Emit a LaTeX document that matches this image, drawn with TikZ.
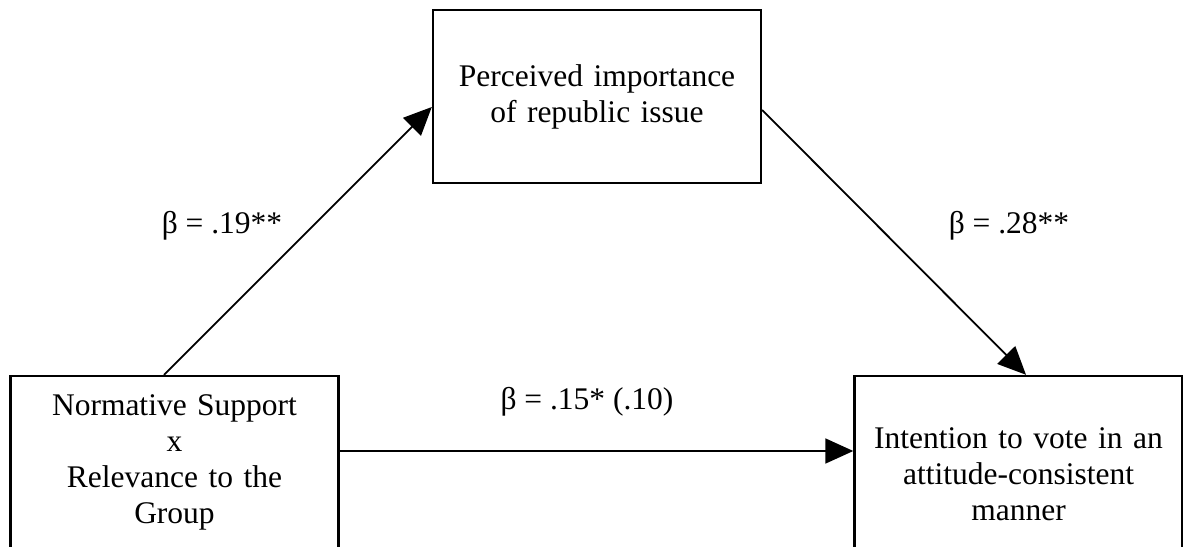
\documentclass[tikz,border=0pt]{standalone}
\usepackage{fontspec}
\setmainfont{Liberation Serif}
\usetikzlibrary{arrows.meta}
\begin{document}
\begin{tikzpicture}[x=1pt,y=-1pt,
  box/.style={draw=black,line width=2.4pt,rectangle,minimum width=328pt,minimum height=173pt,
    text width=300pt,align=center,inner sep=0pt,
    font=\fontsize{31.5pt}{36pt}\selectfont},
  lbl/.style={font=\fontsize{31.5pt}{36pt}\selectfont,inner sep=0pt},
  arr/.style={line width=1.8pt,-{Triangle[length=28pt,width=25pt]}}]
\useasboundingbox (0,0) rectangle (1183,546);
\clip (0,0) rectangle (1183,546);
\fill[white] (0,0) rectangle (1183,546);
\node[box] (T) at (597,96.5) {Perceived importance\\of republic issue};
\node[box] (L) at (174.5,462.5) {Normative Support\\x\\Relevance to the\\Group};
\node[box,minimum height=197pt] (R) at (1018.5,474.5) {Intention to vote in an\\attitude-consistent\\manner};
\coordinate (h1) at ([yshift=11.5pt]L.east);
\draw[arr] ([xshift=-10.5pt]L.north) -- ([yshift=-10.5pt]T.west);
\draw[arr] ([yshift=-13.5pt]T.east) -- ([xshift=7.5pt]R.north);
\draw[arr] (h1) -- (R.west |- h1);
\node[lbl] (b1) at (222,226) {β = .19**};
\node[lbl] (b2) at (1009,226) {β = .28**};
\node[lbl] (b3) at (587,402) {β = .15* (.10)};
\end{tikzpicture}
\end{document}
